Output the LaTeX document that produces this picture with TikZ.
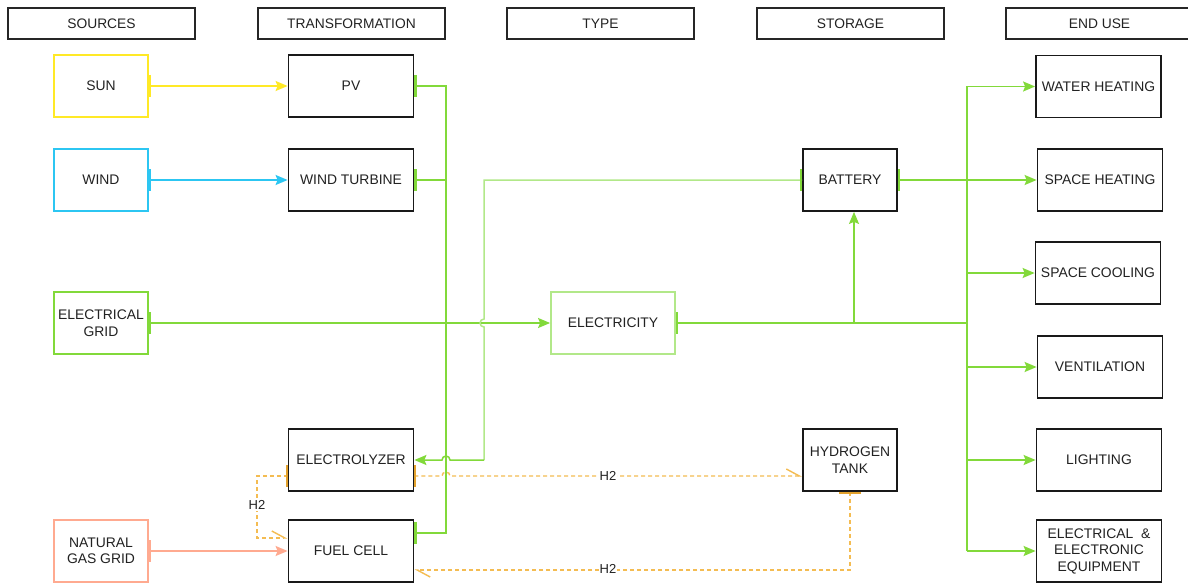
\documentclass[tikz,border=0pt]{standalone}
\usepackage{fontspec}
\setmainfont{Liberation Sans}
\usetikzlibrary{arrows.meta}
\definecolor{cgreen}{HTML}{82D93A}
\definecolor{clight}{HTML}{B2E889}
\definecolor{cyellow}{HTML}{FFE926}
\definecolor{ccyan}{HTML}{2CC6F2}
\definecolor{csalmon}{HTML}{FFAA90}
\definecolor{corange}{HTML}{F4BC52}
\definecolor{cdorange}{HTML}{E3A22E}
\definecolor{ctext}{HTML}{222222}
\newcommand{\vtick}[2]{\draw[#1,line width=2.5pt] ([yshift=11pt,xshift=1pt]#2) -- ([yshift=-11pt,xshift=1pt]#2);}
\begin{document}
\begin{tikzpicture}[x=1pt,y=-1pt,
  hdr/.style={draw=black!85,line width=1.2pt,minimum width=187pt,minimum height=31pt,inner sep=0pt,text=ctext,font=\fontsize{13.8}{16}\selectfont},
  box/.style={draw=black!90,line width=1.8pt,minimum width=125pt,minimum height=62pt,inner sep=0pt,align=center,text=ctext,font=\fontsize{13.9}{16.5}\selectfont},
  sbox/.style={box,minimum width=94pt},
  gline/.style={draw=cgreen,line width=1.5pt},
  lline/.style={draw=clight,line width=1.5pt},
  arr/.style={-{Stealth[length=12pt,width=10pt,inset=2pt]}},
  hline/.style={draw=corange,line width=1.4pt,dash pattern=on 4pt off 3pt},
  barb/.style={-{Straight Barb[harpoon,length=13pt,width=14pt]}},
  hlbl/.style={fill=white,inner sep=1pt,text=ctext,font=\fontsize{13}{15}\selectfont},
]
\useasboundingbox (0,0) rectangle (1188,583);
\fill[white] (0,0) rectangle (1188,583);
% headers
\node[hdr] (h1) at (101.5,23.5) {SOURCES};
\node[hdr] (h2) at (351.5,23.5) {TRANSFORMATION};
\node[hdr] (h3) at (600.5,23.5) {TYPE};
\node[hdr] (h4) at (850.5,23.5) {STORAGE};
\node[hdr] (h5) at (1099.5,23.5) {END USE};
% sources
\node[sbox,draw=cyellow] (sun) at (101,86) {SUN};
\node[sbox,draw=ccyan] (wind) at (101,180) {WIND};
\node[sbox,draw=cgreen] (grid) at (101,323) {ELECTRICAL\\GRID};
\node[sbox,draw=csalmon] (ngg) at (101,551) {NATURAL\\GAS GRID};
% transformation
\node[box] (pv) at (351,86) {PV};
\node[box] (wt) at (351,180) {WIND TURBINE};
\node[box] (ely) at (351,460) {ELECTROLYZER};
\node[box] (fc) at (351,551) {FUEL CELL};
% type
\node[box,draw=clight,minimum width=124pt] (elec) at (613,323) {ELECTRICITY};
% storage
\node[sbox] (bat) at (850,180) {BATTERY};
\node[sbox] (ht) at (850,460) {HYDROGEN\\TANK};
% end use
\node[box] (wh) at (1098.5,86.5) {WATER HEATING};
\node[box] (sh) at (1100,180) {SPACE HEATING};
\node[box] (sc) at (1098,273) {SPACE COOLING};
\node[box] (ven) at (1100,367) {VENTILATION};
\node[box] (lig) at (1099,460) {LIGHTING};
\node[box] (eee) at (1099,551) {ELECTRICAL \ \&\\ELECTRONIC\\EQUIPMENT};
% junction coordinates
\coordinate (bus) at (967,323);
\coordinate (busL) at (446,323);
\coordinate (fcport) at ([yshift=18pt]fc.east);
% source arrows
\draw[draw=cyellow,line width=1.5pt,arr] (sun.east) -- (pv.west);
\draw[draw=ccyan,line width=1.5pt,arr] (wind.east) -- (wt.west);
\draw[draw=csalmon,line width=1.5pt,arr] (ngg.east) -- (fc.west);
\draw[gline,arr] (grid.east) -- (elec.west);
% generation bus
\draw[gline] (pv.east) -- (pv.east -| busL) -- (busL |- fcport) -- (fcport);
\draw[gline] (wt.east) -- (wt.east -| busL);
% battery to electrolyzer
\draw[lline] (bat.west) -- (484,180) -- (484,319) arc[start angle=90,end angle=270,radius=4pt] -- (484,460);
\draw[gline,arr] (484,460) -- (450,460) arc[start angle=0,end angle=180,radius=4pt] -- (ely.east);
% electricity to end use
\draw[gline] (elec.east) -- (bus);
\draw[gline] (bus |- wh.west) -- (bus |- eee.west);
\draw[gline,arr] ([xshift=4pt]bat.south |- bus) -- ([xshift=4pt]bat.south);
\draw[gline,arr] (bat.east) -- (sh.west);
\draw[gline,arr] (bus |- wh.west) -- (wh.west);
\draw[gline,arr] (bus |- sc.west) -- (sc.west);
\draw[gline,arr] (bus |- ven.west) -- (ven.west);
\draw[gline,arr] (bus |- lig.west) -- (lig.west);
\draw[gline,arr] (bus |- eee.west) -- (eee.west);
% hydrogen
\draw[hline,barb] ([yshift=-16pt]ely.east) -- (442,476) arc[start angle=180,end angle=0,radius=4pt] -- ([yshift=-16pt]ht.west);
\node[hlbl] (l1) at (608,476) {H2};
\draw[hline,barb] ([yshift=-16pt]ely.west) -- (257,476) -- (257,538) -- ([yshift=13pt]fc.west);
\node[hlbl] (l2) at (257,505) {H2};
\draw[hline,barb] (ht.south) -- (850,570) -- ([yshift=-19pt]fc.east);
\node[hlbl] (l3) at (608,569) {H2};
% port ticks
\vtick{cyellow}{sun.east}
\vtick{ccyan}{wind.east}
\vtick{csalmon}{ngg.east}
\vtick{cgreen}{grid.east}
\vtick{cgreen}{pv.east}
\vtick{cgreen}{wt.east}
\vtick{cgreen}{bat.east}
\vtick{cgreen}{elec.east}
\vtick{cgreen}{fcport}
\draw[cgreen,line width=2.5pt] ([yshift=11pt,xshift=-1pt]bat.west) -- ([yshift=-11pt,xshift=-1pt]bat.west);
\draw[cdorange,line width=2pt] ([yshift=-5pt,xshift=-1pt]ely.west) -- ([yshift=-27pt,xshift=-1pt]ely.west);
\draw[cdorange,line width=2pt] ([yshift=-5pt,xshift=1pt]ely.east) -- ([yshift=-27pt,xshift=1pt]ely.east);
\draw[cdorange,line width=2pt] ([xshift=-11pt,yshift=-1pt]ht.south) -- ([xshift=11pt,yshift=-1pt]ht.south);
\end{tikzpicture}
\end{document}
